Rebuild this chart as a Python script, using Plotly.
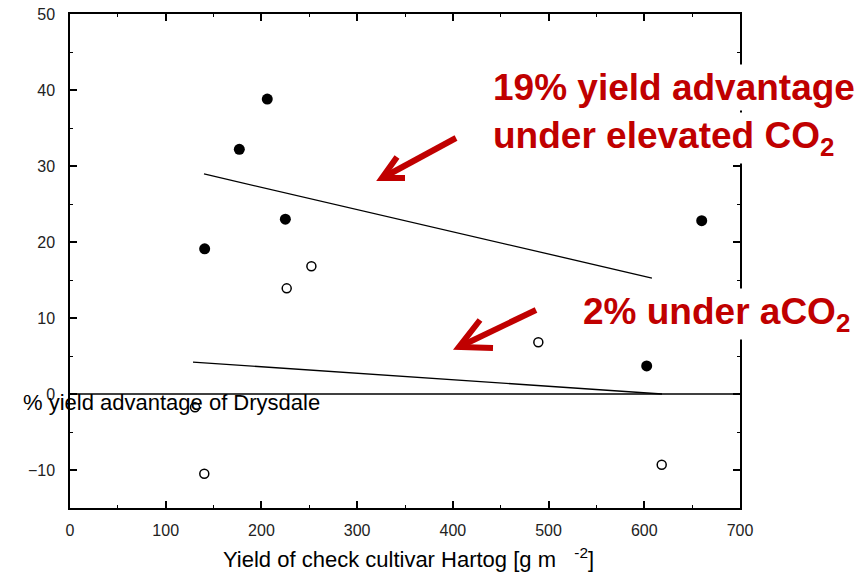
import plotly.graph_objects as go

# Yield of the check cultivar Hartog (g m-2) vs. % yield advantage of Drysdale
elev_x = [140.7, 176.9, 206.1, 225.0, 602.5, 660.0]
elev_y = [19.1, 32.2, 38.8, 23.0, 3.7, 22.8]
amb_x = [130.6, 140.3, 226.4, 252.2, 489.3, 618.2]
amb_y = [-1.75, -10.5, 13.9, 16.8, 6.8, -9.3]

# fitted regression lines (end points)
elev_fit_x = [140.0, 608.0]
elev_fit_y = [28.95, 15.26]
amb_fit_x = [128.5, 618.5]
amb_fit_y = [4.2, 0.0]

x_ticks = [0, 100, 200, 300, 400, 500, 600, 700]
y_ticks = [-10, 0, 10, 20, 30, 40, 50]

W, H = 868, 574
ML, MR, MT, MB = 70, 128, 14, 66
PW, PH = W - ML - MR, H - MT - MB

RED = "#c00000"
FONT = "Liberation Sans, Arial, sans-serif"


def px(x, y):
    """Convert pixel position to paper coordinates."""
    return (x - ML) / PW, (H - MB - y) / PH


fig = go.Figure()

fig.add_trace(go.Scatter(x=elev_fit_x, y=elev_fit_y, mode="lines",
                         line=dict(color="black", width=1.3), showlegend=False))
fig.add_trace(go.Scatter(x=amb_fit_x, y=amb_fit_y, mode="lines",
                         line=dict(color="black", width=1.3), showlegend=False))
fig.add_trace(go.Scatter(x=elev_x, y=elev_y, mode="markers",
                         marker=dict(symbol="circle", size=11, color="black"),
                         showlegend=False))
fig.add_trace(go.Scatter(x=amb_x, y=amb_y, mode="markers",
                         marker=dict(symbol="circle-open", size=9, color="black",
                                     line=dict(width=1.5)),
                         showlegend=False))

shapes = []
# zero reference line
shapes.append(dict(type="line", xref="paper", yref="y", x0=0, x1=1, y0=0, y1=0,
                   line=dict(color="black", width=1.5), layer="above"))


def arrow(start, tip, b1, b2):
    sx, sy = px(*start)
    tx, ty = px(*tip)
    shaft_tip = px(tip[0] + 2, tip[1] - 1)
    shapes.append(dict(type="line", xref="paper", yref="paper",
                       x0=sx, y0=sy, x1=shaft_tip[0], y1=shaft_tip[1],
                       line=dict(color=RED, width=6)))
    b1x, b1y = px(*b1)
    b2x, b2y = px(*b2)
    shapes.append(dict(type="path", xref="paper", yref="paper",
                       path=f"M {b1x} {b1y} L {tx} {ty} L {b2x} {b2y}",
                       line=dict(color=RED, width=6)))


arrow((456, 138), (382, 178), (397, 157), (405, 178))
arrow((536, 310), (459, 347), (480, 320), (493, 348))

annotations = []


def note(text, x, y, size, color="black", bg=None, bold=False):
    xp, yp = px(x, y)
    annotations.append(dict(
        text=f"<b>{text}</b>" if bold else text, xref="paper", yref="paper",
        x=xp, y=yp, xanchor="left", yanchor="middle", showarrow=False,
        font=dict(family=FONT, size=size, color=color),
        bgcolor=bg, borderpad=2))


note("19% yield advantage", 490, 88, 37, RED, "white", True)
note("under elevated CO<sub>2</sub>", 490, 138, 37, RED, "white", True)
note("2% under aCO<sub>2</sub>", 580, 314, 37, RED, "white", True)
note("% yield advantage of Drysdale", 20, 403, 22)
note("Yield of check cultivar Hartog [g m\u00a0\u00a0\u00a0<sup>-2</sup>]", 220, 558, 22)

axis_common = dict(
    showgrid=False, zeroline=False, showline=True, linecolor="black", linewidth=1.5,
    mirror="ticks", ticks="inside", ticklen=7, tickwidth=1.5, tickcolor="black",
    tickfont=dict(family=FONT, size=16, color="#222"),
    minor=dict(ticks="inside", ticklen=3, tickwidth=1, tickcolor="black"),
)

fig.update_xaxes(range=[0, 700], tickvals=x_ticks, minor_dtick=50,
                 ticklabelstandoff=7, **axis_common)
fig.update_yaxes(range=[-15, 50], tickvals=y_ticks, minor_dtick=5,
                 ticklabelstandoff=10, **axis_common)

fig.update_layout(
    width=W, height=H, margin=dict(l=ML, r=MR, t=MT, b=MB, autoexpand=False),
    paper_bgcolor="white", plot_bgcolor="white",
    shapes=shapes, annotations=annotations,
    font=dict(family=FONT),
)

fig.write_html("out.html")
